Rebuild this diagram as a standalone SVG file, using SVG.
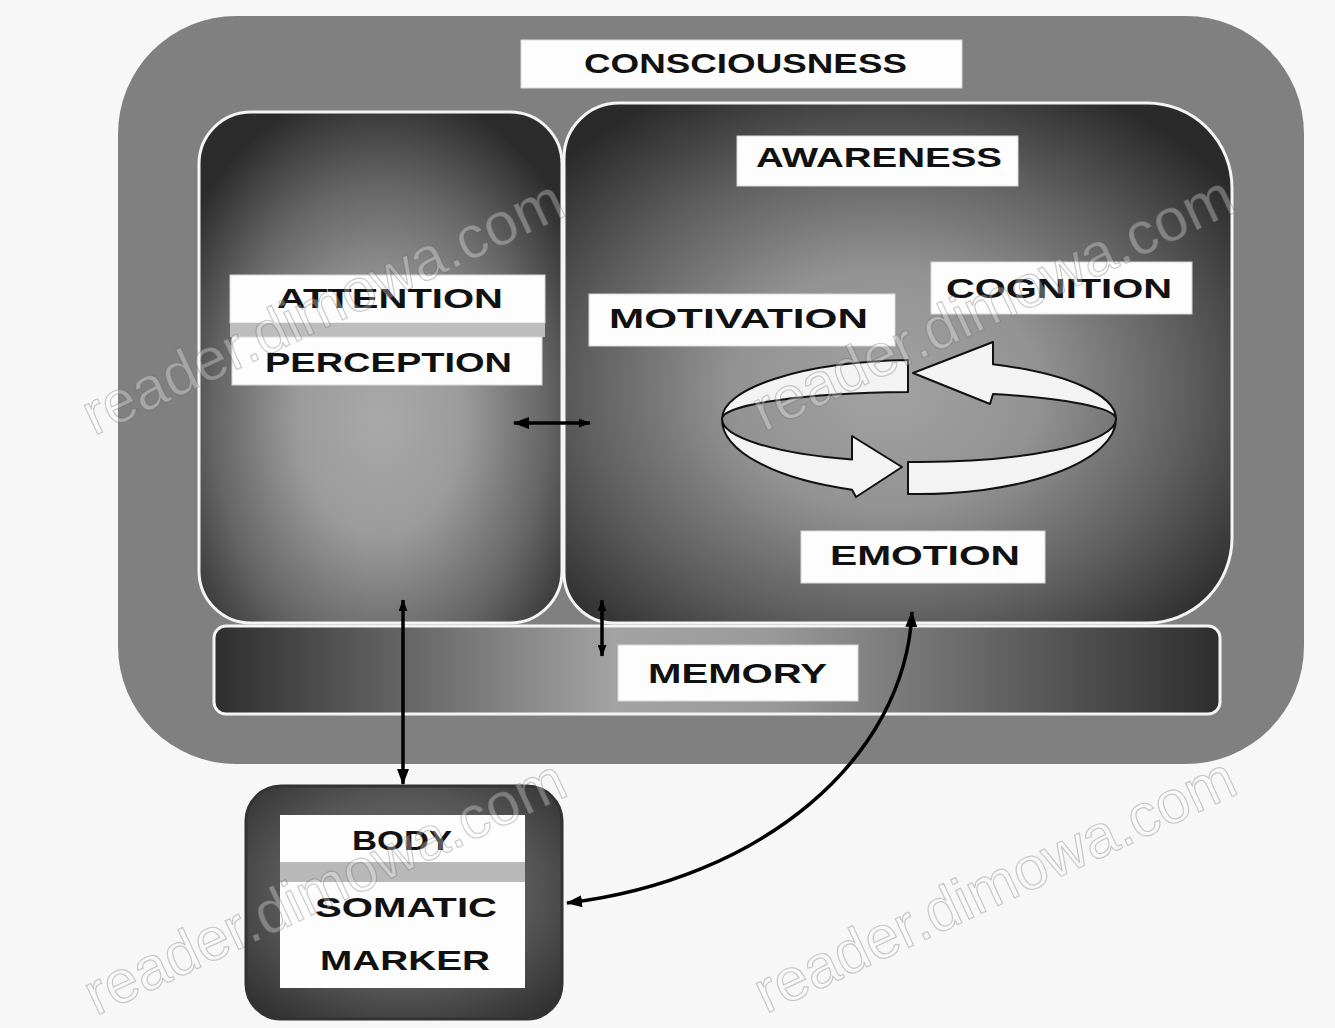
<svg xmlns="http://www.w3.org/2000/svg" width="1335" height="1028" viewBox="0 0 1335 1028">
  <defs>
    <radialGradient id="gLeft" cx="0.5" cy="0.6" r="0.65">
      <stop offset="0" stop-color="#a9a9a9"/>
      <stop offset="0.35" stop-color="#9b9b9b"/>
      <stop offset="0.7" stop-color="#666666"/>
      <stop offset="1" stop-color="#2c2c2c"/>
    </radialGradient>
    <radialGradient id="gRight" cx="0.48" cy="0.55" r="0.65">
      <stop offset="0" stop-color="#a2a2a2"/>
      <stop offset="0.35" stop-color="#939393"/>
      <stop offset="0.7" stop-color="#5e5e5e"/>
      <stop offset="1" stop-color="#2a2a2a"/>
    </radialGradient>
    <linearGradient id="gMem" x1="0" y1="0" x2="1" y2="0">
      <stop offset="0" stop-color="#2e2e2e"/>
      <stop offset="0.4" stop-color="#a3a3a3"/>
      <stop offset="0.55" stop-color="#9a9a9a"/>
      <stop offset="1" stop-color="#2e2e2e"/>
    </linearGradient>
    <radialGradient id="gBody" cx="0.5" cy="0.45" r="0.7">
      <stop offset="0" stop-color="#7a7a7a"/>
      <stop offset="0.6" stop-color="#555555"/>
      <stop offset="1" stop-color="#2f2f2f"/>
    </radialGradient>
    <marker id="ah" viewBox="0 0 16 12" markerWidth="16" markerHeight="12" refX="15" refY="6" orient="auto-start-reverse" markerUnits="userSpaceOnUse">
      <path d="M0,0 L16,6 L0,12 Z" fill="#000"/>
    </marker>
    <marker id="ahs" viewBox="0 0 16 12" markerWidth="12" markerHeight="9" refX="15" refY="6" orient="auto-start-reverse" markerUnits="userSpaceOnUse">
      <path d="M0,0 L16,6 L0,12 Z" fill="#000"/>
    </marker>
  </defs>
  <style>
    .lbl { fill: #fdfdfd; stroke: #d8d8d8; stroke-width: 1; }
    .t { font-family: "Liberation Sans", Arial, sans-serif; font-weight: bold; font-size: 28px; fill: #111; }
    .panel { stroke: #f4f4f4; stroke-width: 3; }
    .conn { fill: none; stroke: #000; stroke-width: 3.5; }
    .ring { fill: #f3f3f3; stroke: #111; stroke-width: 2; stroke-linejoin: round; }
    .wm { font-family: "Liberation Sans", Arial, sans-serif; font-size: 60px; fill: #ffffff; fill-opacity: 0.3; stroke: #555; stroke-opacity: 0.3; stroke-width: 1.2; }
  </style>

  <rect x="0" y="0" width="1335" height="1028" fill="#f7f7f7"/>

  <g id="consciousness">
    <rect x="118" y="16" width="1186" height="748" rx="118" ry="118" fill="#808080"/>
    <rect class="lbl" x="521" y="40" width="441" height="48"/>
    <text class="t" x="584" y="73" textLength="323" lengthAdjust="spacingAndGlyphs">CONSCIOUSNESS</text>
  </g>

  <g id="memory">
    <rect class="panel" x="214" y="626" width="1006" height="88" rx="12" ry="12" fill="url(#gMem)"/>
    <rect class="lbl" x="618" y="645" width="240" height="56"/>
    <text class="t" x="648" y="683" textLength="179" lengthAdjust="spacingAndGlyphs">MEMORY</text>
  </g>

  <g id="attention-perception">
    <rect class="panel" x="199" y="112" width="363" height="511" rx="52" ry="52" fill="url(#gLeft)"/>
    <rect class="lbl" x="230" y="275" width="315" height="48"/>
    <rect x="230" y="323" width="315" height="14" fill="#bdbdbd"/>
    <rect class="lbl" x="232" y="337" width="310" height="48"/>
    <text class="t" x="277" y="308" textLength="226" lengthAdjust="spacingAndGlyphs">ATTENTION</text>
    <text class="t" x="265" y="372" textLength="247" lengthAdjust="spacingAndGlyphs">PERCEPTION</text>
  </g>

  <g id="awareness">
    <path class="panel" fill="url(#gRight)" d="M619,103 L1147,103 A85,85 0 0 1 1232,188 L1232,538 A85,85 0 0 1 1147,623 L614,623 A50,50 0 0 1 564,573 L564,158 A55,55 0 0 1 619,103 Z"/>
    <rect class="lbl" x="737" y="136" width="281" height="50"/>
    <text class="t" x="756" y="167" textLength="246" lengthAdjust="spacingAndGlyphs">AWARENESS</text>
  </g>

  <g id="cognition">
    <rect class="lbl" x="931" y="262" width="261" height="52"/>
    <text class="t" x="946" y="298" textLength="226" lengthAdjust="spacingAndGlyphs">COGNITION</text>
  </g>

  <g id="motivation">
    <rect class="lbl" x="589" y="294" width="306" height="52"/>
    <text class="t" x="609" y="328" textLength="259" lengthAdjust="spacingAndGlyphs">MOTIVATION</text>
  </g>

  <g id="emotion">
    <rect class="lbl" x="801" y="531" width="244" height="52"/>
    <text class="t" x="830" y="565" textLength="190" lengthAdjust="spacingAndGlyphs">EMOTION</text>
  </g>

  <g id="cycle">
    <path class="ring" d="M722,419 A197,59 0 0 1 908,360.1 L908,392.1 A197,27 0 0 0 722,419 Z"/>
    <path class="ring" d="M1116,419 A197,59 0 0 0 993,364.3 L993,342 L913,373 L990,404 L993,394 A197,27 0 0 1 1116,419 Z"/>
    <path class="ring" d="M908,461.9 A197,43 0 0 0 1116,419 A197,75 0 0 1 908,493.9 Z"/>
    <path class="ring" d="M722,419 A197,43 0 0 0 852,459.5 L852,436 L902,467 L856,497 L852,489.7 A197,75 0 0 1 722,419 Z"/>
  </g>

  <g id="body-somatic-marker">
    <rect x="246" y="786" width="316" height="233" rx="35" ry="35" fill="url(#gBody)" stroke="#333" stroke-width="3"/>
    <rect x="280" y="815" width="245" height="47" fill="#fdfdfd"/>
    <rect x="280" y="862" width="245" height="20" fill="#b8b8b8"/>
    <rect x="280" y="882" width="245" height="106" fill="#fdfdfd"/>
    <text class="t" x="352" y="850" font-size="27" textLength="100" lengthAdjust="spacingAndGlyphs">BODY</text>
    <text class="t" x="315" y="917" textLength="182" lengthAdjust="spacingAndGlyphs">SOMATIC</text>
    <text class="t" x="320" y="970" textLength="170" lengthAdjust="spacingAndGlyphs">MARKER</text>
  </g>

  <g id="connectors">
    <line class="conn" x1="590" y1="423" x2="514" y2="423" marker-start="url(#ahs)" marker-end="url(#ah)"/>
    <line class="conn" x1="403" y1="600" x2="403" y2="784" marker-start="url(#ahs)" marker-end="url(#ah)"/>
    <line class="conn" x1="602" y1="600" x2="602" y2="656" stroke-width="3" marker-start="url(#ahs)" marker-end="url(#ahs)"/>
    <path class="conn" d="M912,612 C905,760 760,880 567,903" marker-start="url(#ah)" marker-end="url(#ah)"/>
  </g>

  <g id="watermarks">
    <text class="wm" transform="translate(94,436) rotate(-25)">reader.dimowa.com</text>
    <text class="wm" transform="translate(764,432) rotate(-25)">reader.dimowa.com</text>
    <text class="wm" transform="translate(96,1016) rotate(-25)">reader.dimowa.com</text>
    <text class="wm" transform="translate(766,1014) rotate(-25)">reader.dimowa.com</text>
  </g>
</svg>
